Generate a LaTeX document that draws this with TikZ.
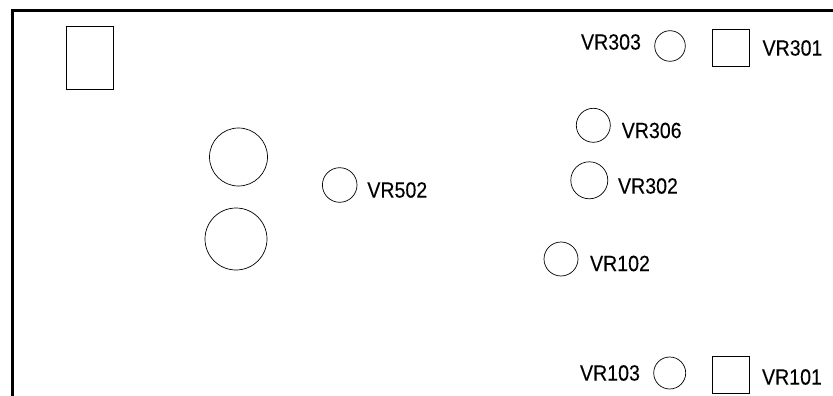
\documentclass[tikz,border=0pt]{standalone}
\usepackage{fontspec}
\setmainfont[FakeStretch=0.89,FakeBold=0.15]{Liberation Sans}
\tikzset{
 part/.style={draw=black,line width=0.7pt,fill=none,inner sep=0pt,outer sep=0pt,minimum size=0pt},
 lbl/.style={font=\fontsize{22}{24}\selectfont,inner sep=0pt,text=black},
}
\begin{document}
\begin{tikzpicture}[x=1pt,y=-1pt]
\useasboundingbox (0,0) rectangle (833,396);
\coordinate (bl) at (12.5,396);
\coordinate (tl) at (12.5,10.3);
\coordinate (tr) at (833,10.3);
\draw[line width=2.7pt] (bl) -- (tl) -- (tr);
\node[part,rectangle,minimum width=47.5pt,minimum height=63pt] (conn) at (90,57.5) {};
\node[part,circle,minimum size=58pt] (big1) at (238.5,157) {};
\node[part,circle,minimum size=62pt] (big2) at (236,239) {};
\node[part,circle,minimum size=34.6pt] (v502) at (339.7,185) {};
\node[part,circle,minimum size=34pt] (v306) at (593.3,125.3) {};
\node[part,circle,minimum size=37pt] (v302) at (589.3,180.3) {};
\node[part,circle,minimum size=34pt] (v102) at (561,259) {};
\node[part,circle,minimum size=30.6pt] (v303) at (670,46) {};
\node[part,circle,minimum size=32pt] (v103) at (669.7,373) {};
\node[part,rectangle,minimum size=37.2pt] (v301) at (731,48) {};
\node[part,rectangle,minimum size=36.8pt] (v101) at (731,375) {};
\node[lbl] at (397.3,190) {VR502};
\node[lbl] at (651.7,130.5) {VR306};
\node[lbl] at (648,186) {VR302};
\node[lbl] at (620,263.5) {VR102};
\node[lbl] at (611,42) {VR303};
\node[lbl] at (792.5,48) {VR301};
\node[lbl] at (610,373) {VR103};
\node[lbl] at (792,377) {VR101};
\end{tikzpicture}
\end{document}
